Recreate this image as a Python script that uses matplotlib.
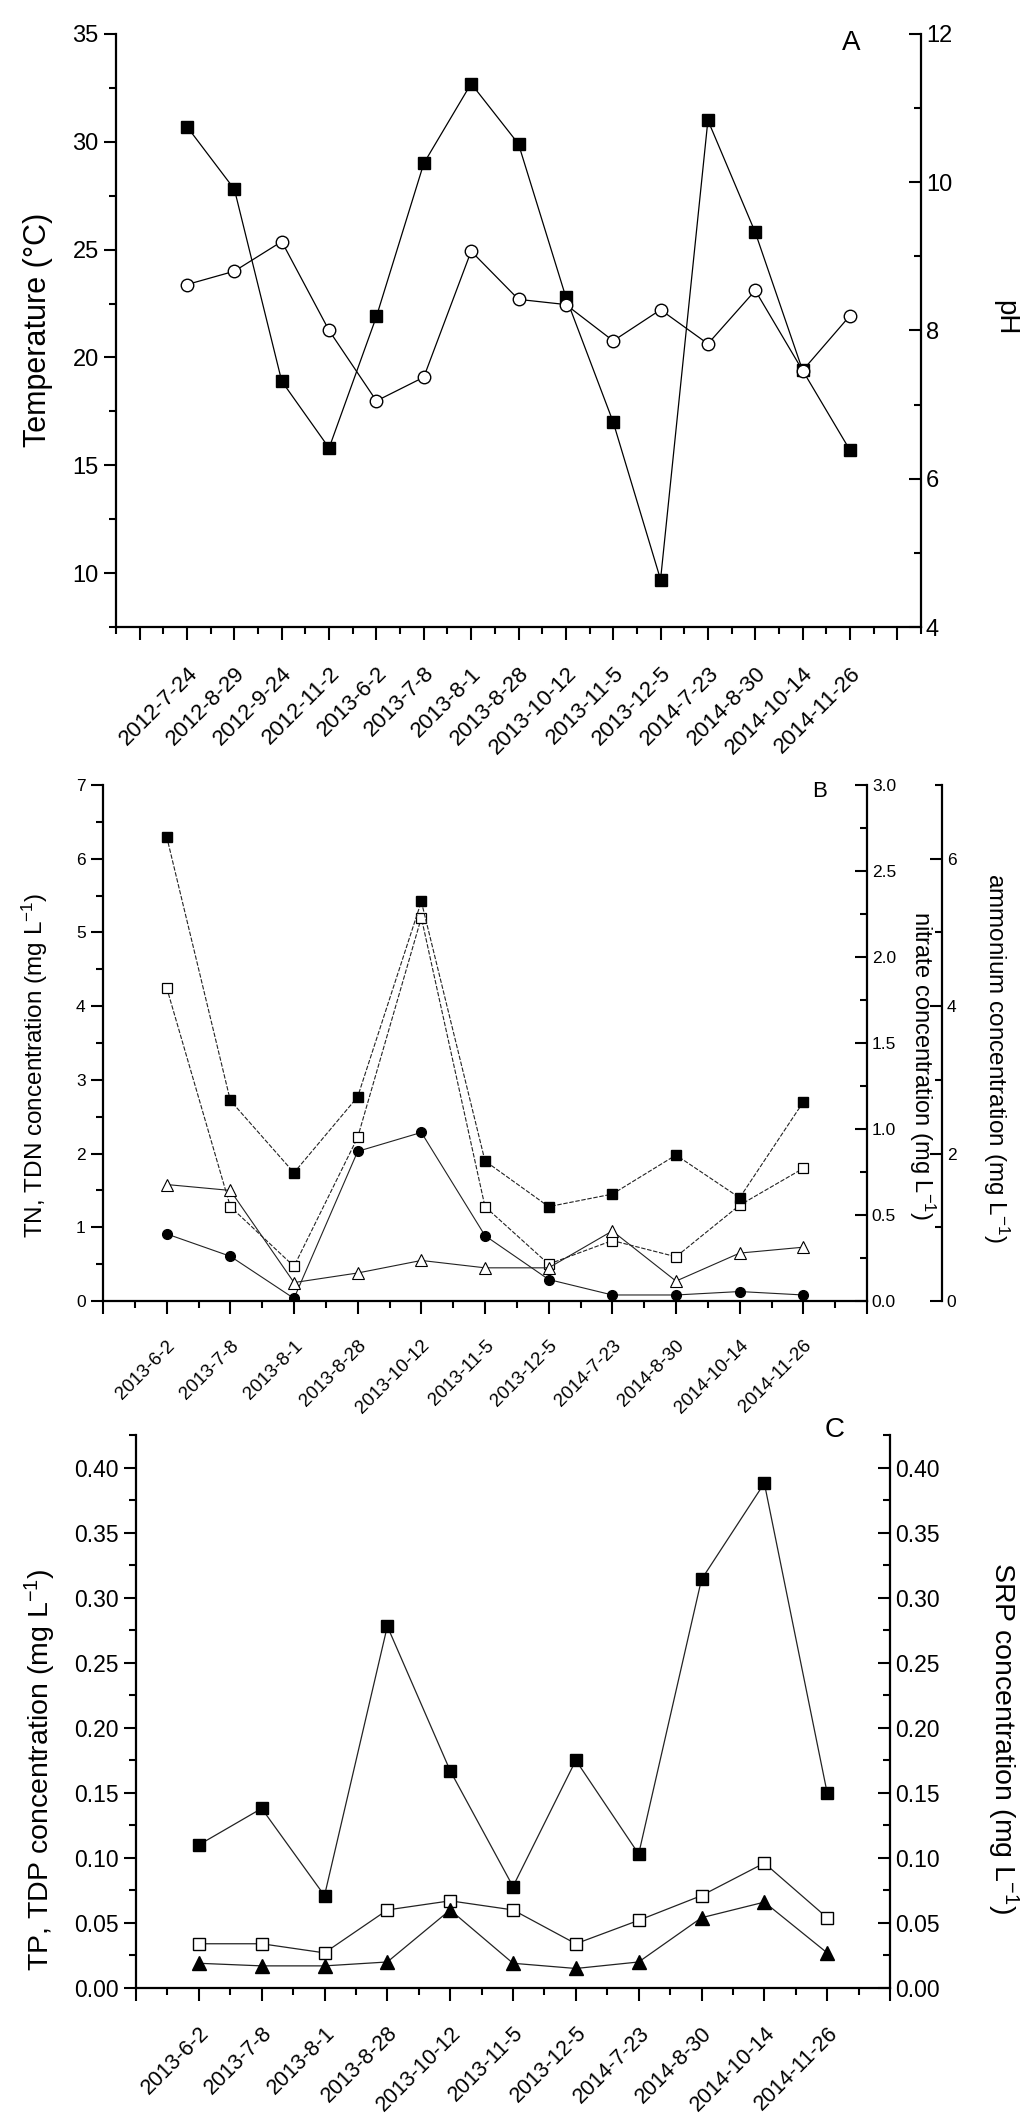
import numpy as np
import matplotlib
matplotlib.use("Agg")
import matplotlib.pyplot as plt
from matplotlib.ticker import MultipleLocator, FormatStrFormatter

plt.rcParams['font.family'] = ['Liberation Sans', 'DejaVu Sans']
plt.rcParams['mathtext.fontset'] = 'custom'
plt.rcParams['mathtext.rm'] = 'Liberation Sans'
plt.rcParams['mathtext.it'] = 'Liberation Sans:italic'

# ---- data ----
dates_a = ['2012-7-24', '2012-8-29', '2012-9-24', '2012-11-2', '2013-6-2', '2013-7-8',
           '2013-8-1', '2013-8-28', '2013-10-12', '2013-11-5', '2013-12-5', '2014-7-23',
           '2014-8-30', '2014-10-14', '2014-11-26']
temp = [30.7, 27.8, 18.9, 15.8, 21.9, 29.0, 32.7, 29.9, 22.8, 17.0, 9.7, 31.0, 25.8, 19.4, 15.7]
ph = [8.62, 8.80, 9.20, 8.00, 7.05, 7.37, 9.07, 8.42, 8.35, 7.86, 8.28, 7.82, 8.54, 7.46, 8.20]

dates_bc = dates_a[4:]
tn = [6.30, 2.72, 1.74, 2.77, 5.42, 1.90, 1.28, 1.45, 1.98, 1.40, 2.70]
tdn = [4.25, 1.28, 0.47, 2.22, 5.20, 1.28, 0.50, 0.82, 0.60, 1.30, 1.80]
nitrate = [0.39, 0.26, 0.015, 0.87, 0.98, 0.38, 0.125, 0.035, 0.035, 0.055, 0.035]
ammonium = [1.58, 1.50, 0.25, 0.38, 0.55, 0.45, 0.45, 0.95, 0.27, 0.65, 0.73]

tp = [0.110, 0.138, 0.071, 0.278, 0.167, 0.078, 0.175, 0.103, 0.314, 0.388, 0.150]
tdp = [0.034, 0.034, 0.027, 0.060, 0.067, 0.060, 0.034, 0.052, 0.071, 0.096, 0.054]
srp = [0.019, 0.017, 0.017, 0.020, 0.060, 0.019, 0.015, 0.020, 0.054, 0.066, 0.027]

W, H = 1024, 2118
fig = plt.figure(figsize=(W / 100, H / 100), dpi=100)


def rect(l, t, r, b):
    return [l / W, 1 - b / H, (r - l) / W, (b - t) / H]


def style(ax, twin=False):
    ax.spines['top'].set_visible(False)
    for s in ax.spines.values():
        s.set_linewidth(1.6)
    if twin:
        ax.spines['left'].set_visible(False)
        ax.spines['bottom'].set_visible(False)
        ax.tick_params(axis='y', which='major', direction='in', length=9, width=1.5)
        ax.tick_params(axis='y', which='minor', direction='in', length=5, width=1.5)
    else:
        ax.spines['right'].set_visible(False)
        ax.tick_params(which='major', direction='out', length=9, width=1.5)
        ax.tick_params(which='minor', direction='out', length=5, width=1.5)


def xdates(ax, labels, n0, n1, pad, size):
    ax.set_xticks(range(n0, n1 + 1))
    ax.set_xticklabels([''] * (1 - n0) + labels + [''])
    ax.xaxis.set_minor_locator(MultipleLocator(0.5))
    ax.tick_params(axis='x', pad=pad, labelsize=size)
    for t in ax.get_xticklabels():
        t.set_rotation(45)
        t.set_ha('right')
        t.set_va('top')
        t.set_rotation_mode('anchor')


def fig_xy(px, py):
    return px / W, 1 - py / H


# ---- panel A ----
axA = fig.add_axes(rect(116, 34, 921, 627))
axA2 = axA.twinx()
style(axA)
style(axA2, twin=True)
xa = np.arange(1, len(dates_a) + 1)
axA.plot(xa, temp, color='black', lw=0.9, marker='s', ms=9, mfc='black', mec='black')
axA2.plot(xa, ph, color='black', lw=0.9, marker='o', ms=9, mfc='white', mec='black', mew=1.0)
axA.set_xlim(-0.5, 16.5)
axA.set_ylim(7.5, 35)
axA2.set_ylim(4, 12)
axA.yaxis.set_major_locator(MultipleLocator(5))
axA.yaxis.set_minor_locator(MultipleLocator(2.5))
axA2.yaxis.set_major_locator(MultipleLocator(2))
axA2.yaxis.set_minor_locator(MultipleLocator(1))
axA.tick_params(axis='y', labelsize=17)
axA2.tick_params(axis='y', labelsize=17)
xdates(axA, dates_a, -0, 16, 17, 16)
axA.set_xticks(range(0, 17))
axA.set_xticklabels([''] + dates_a + [''])
for t in axA.get_xticklabels():
    t.set_rotation(45)
    t.set_ha('right')
    t.set_va('top')
    t.set_rotation_mode('anchor')
axA.set_ylabel('Temperature (°C)', fontsize=22, va='center')
axA.yaxis.set_label_coords(*fig_xy(38, 330), transform=fig.transFigure)
axA2.set_ylabel('pH', fontsize=20, rotation=270, va='center')
axA2.yaxis.set_label_coords(*fig_xy(1005, 318), transform=fig.transFigure)
axA.text(*fig_xy(851, 43), 'A', transform=fig.transFigure, fontsize=20, ha='center', va='center')

# ---- panel B ----
axB = fig.add_axes(rect(103, 785, 867, 1301))
axB2 = axB.twinx()
axB3 = axB.twinx()
axB3.spines['right'].set_position(('axes', (942 - 103) / (867 - 103)))
style(axB)
style(axB2, twin=True)
style(axB3, twin=True)
xb = np.arange(1, len(dates_bc) + 1)
axB.plot(xb, tdn, color='#222222', lw=0.8, ls=(0, (4, 1.5)), marker='s', ms=6.5,
         mfc='white', mec='black', mew=0.9)
axB.plot(xb, tn, color='#222222', lw=0.8, ls=(0, (4, 1.5)), marker='s', ms=6.5,
         mfc='black', mec='black')
axB2.plot(xb, nitrate, color='#222222', lw=0.8, marker='o', ms=7, mfc='black', mec='black')
axB3.plot(xb, ammonium, color='#222222', lw=0.8, marker='^', ms=8, mfc='white', mec='black', mew=0.8)
axB.set_xlim(0, 12)
axB.set_ylim(0, 7)
axB2.set_ylim(0, 3)
axB3.set_ylim(0, 7)
axB.yaxis.set_major_locator(MultipleLocator(1))
axB.yaxis.set_minor_locator(MultipleLocator(0.5))
axB2.yaxis.set_major_locator(MultipleLocator(0.5))
axB2.yaxis.set_minor_locator(MultipleLocator(0.25))
axB2.yaxis.set_major_formatter(FormatStrFormatter('%.1f'))
axB3.yaxis.set_major_locator(MultipleLocator(2))
axB3.yaxis.set_minor_locator(MultipleLocator(1))
for ax in (axB, axB2, axB3):
    ax.tick_params(axis='y', labelsize=12.5)
xdates(axB, dates_bc, 0, 12, 17, 13.5)
axB.set_ylabel('TN, TDN concentration (mg L$^{-1}$)', fontsize=17.5, va='center')
axB.yaxis.set_label_coords(*fig_xy(35, 1065), transform=fig.transFigure)
axB2.set_ylabel('nitrate concentration (mg L$^{-1}$)', fontsize=17, rotation=270, va='center')
axB2.yaxis.set_label_coords(*fig_xy(922, 1066), transform=fig.transFigure)
axB3.set_ylabel('ammonium concentration (mg L$^{-1}$)', fontsize=17.5, rotation=270, va='center')
axB3.yaxis.set_label_coords(*fig_xy(996, 1058), transform=fig.transFigure)
axB.text(*fig_xy(820, 792), 'B', transform=fig.transFigure, fontsize=16, ha='center', va='center')

# ---- panel C ----
axC = fig.add_axes(rect(136, 1435, 890, 1988))
axC2 = axC.twinx()
style(axC)
style(axC2, twin=True)
xc = np.arange(1, len(dates_bc) + 1)
axC.plot(xc, tp, color='#222222', lw=0.9, marker='s', ms=8, mfc='black', mec='black')
axC.plot(xc, tdp, color='#222222', lw=0.9, marker='s', ms=8, mfc='white', mec='black', mew=1.0)
axC2.plot(xc, srp, color='#222222', lw=0.9, marker='^', ms=10, mfc='black', mec='black')
axC.set_xlim(0, 12)
for ax in (axC, axC2):
    ax.set_ylim(0, 0.425)
    ax.yaxis.set_major_locator(MultipleLocator(0.05))
    ax.yaxis.set_minor_locator(MultipleLocator(0.025))
    ax.yaxis.set_major_formatter(FormatStrFormatter('%.2f'))
    ax.tick_params(axis='y', labelsize=16.5)
xdates(axC, dates_bc, 0, 12, 16, 15.5)
axC.set_ylabel('TP, TDP concentration (mg L$^{-1}$)', fontsize=20.5, va='center')
axC.yaxis.set_label_coords(*fig_xy(40, 1770), transform=fig.transFigure)
axC2.set_ylabel('SRP concentration (mg L$^{-1}$)', fontsize=20.5, rotation=270, va='center')
axC2.yaxis.set_label_coords(*fig_xy(1003, 1738), transform=fig.transFigure)
axC.text(*fig_xy(835, 1430), 'C', transform=fig.transFigure, fontsize=20, ha='center', va='center')

fig.savefig('out.png', dpi=100)
